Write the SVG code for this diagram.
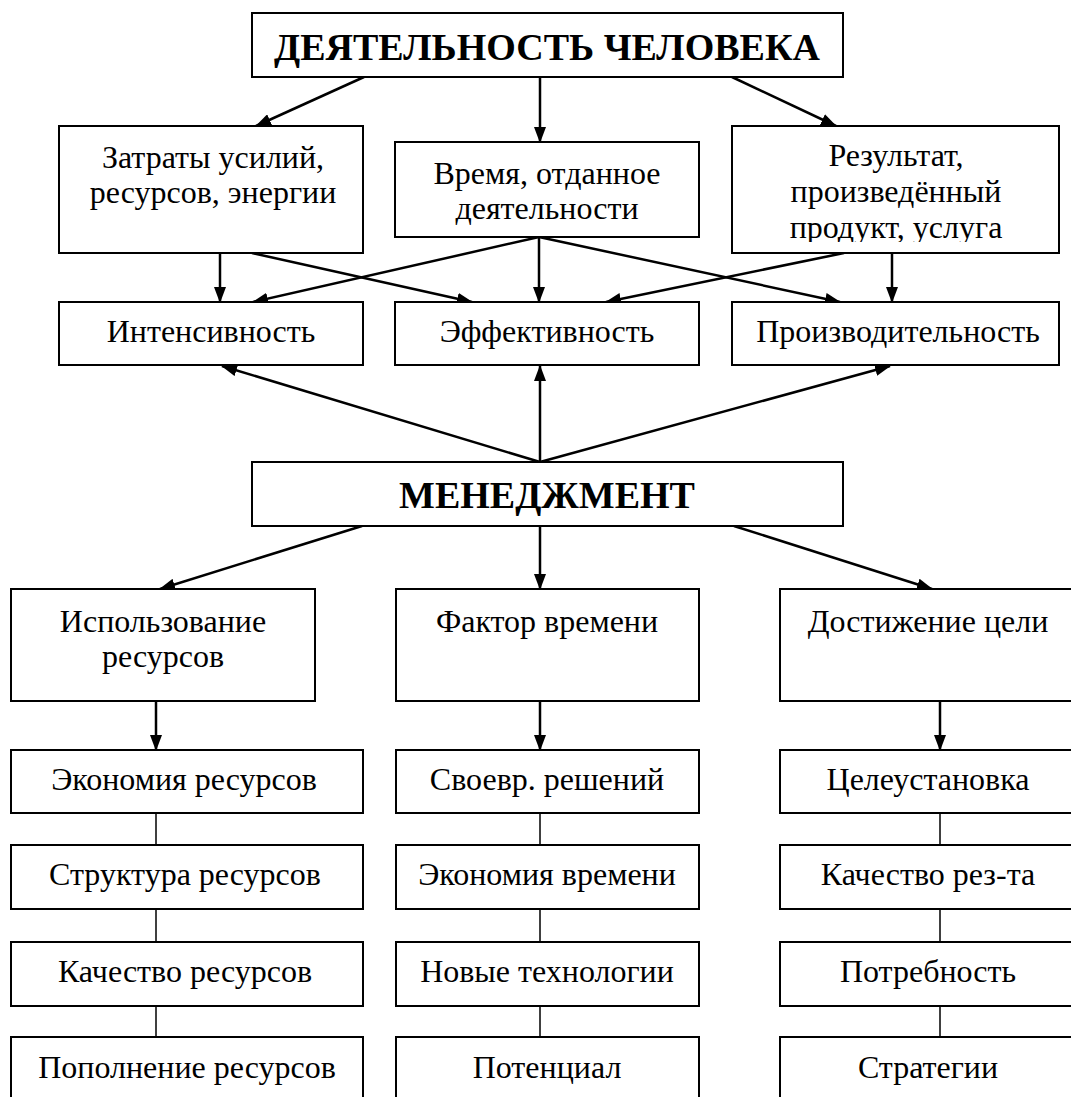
<svg xmlns="http://www.w3.org/2000/svg" width="1071" height="1097" viewBox="0 0 1071 1097">
<defs>
<marker id="ah" viewBox="0 0 16 12" refX="15" refY="6" markerWidth="16" markerHeight="12" markerUnits="userSpaceOnUse" orient="auto">
<path d="M0,0 L16,6 L0,12 Z" fill="#000"/>
</marker>
<clipPath id="clipRes"><rect x="732" y="126" width="327" height="116"/></clipPath>
</defs>
<rect width="1071" height="1097" fill="#fff"/>

<g id="connectors" stroke="#000" fill="none">
<g stroke-width="2.5" marker-end="url(#ah)">
<line x1="364" y1="77" x2="256" y2="126"/>
<line x1="540" y1="77" x2="540" y2="142"/>
<line x1="732" y1="77" x2="836" y2="126"/>
<line x1="220" y1="253" x2="220" y2="302"/>
<line x1="252" y1="253" x2="472" y2="302"/>
<line x1="539" y1="237" x2="253" y2="302"/>
<line x1="539" y1="237" x2="539" y2="302"/>
<line x1="539" y1="237" x2="840" y2="302"/>
<line x1="844" y1="253" x2="606" y2="302"/>
<line x1="892" y1="253" x2="892" y2="302"/>
<line x1="540" y1="462" x2="222" y2="366"/>
<line x1="540" y1="462" x2="540" y2="366"/>
<line x1="540" y1="462" x2="890" y2="366"/>
<line x1="362" y1="526" x2="160" y2="589"/>
<line x1="540" y1="526" x2="540" y2="589"/>
<line x1="734" y1="526" x2="932" y2="589"/>
<line x1="156" y1="701" x2="156" y2="750"/>
<line x1="540" y1="701" x2="540" y2="750"/>
<line x1="940" y1="701" x2="940" y2="750"/>
</g>
<g stroke-width="1.5">
<line x1="156" y1="813" x2="156" y2="845"/>
<line x1="156" y1="909" x2="156" y2="942"/>
<line x1="156" y1="1006" x2="156" y2="1037"/>
<line x1="540" y1="813" x2="540" y2="845"/>
<line x1="540" y1="909" x2="540" y2="942"/>
<line x1="540" y1="1006" x2="540" y2="1037"/>
<line x1="940" y1="813" x2="940" y2="845"/>
<line x1="940" y1="909" x2="940" y2="942"/>
<line x1="940" y1="1006" x2="940" y2="1037"/>
</g>
</g>

<g id="nodes" text-anchor="middle">
<g id="n-activity"><rect fill="#fff" stroke="#000" stroke-width="2" x="252" y="13" width="591" height="64"/><text font-family="Liberation Serif" font-size="38" font-weight="bold" x="547" y="60">ДЕЯТЕЛЬНОСТЬ ЧЕЛОВЕКА</text></g>
<g id="n-costs"><rect fill="#fff" stroke="#000" stroke-width="2" x="59" y="126" width="304" height="127"/><text font-family="Liberation Serif" font-size="32" x="213" y="168">Затраты усилий,</text><text font-family="Liberation Serif" font-size="32" x="213" y="203">ресурсов, энергии</text></g>
<g id="n-time"><rect fill="#fff" stroke="#000" stroke-width="2" x="395" y="142" width="304" height="95"/><text font-family="Liberation Serif" font-size="32" x="547" y="184">Время, отданное</text><text font-family="Liberation Serif" font-size="32" x="547" y="219">деятельности</text></g>
<g id="n-result"><rect fill="#fff" stroke="#000" stroke-width="2" x="732" y="126" width="327" height="127"/><g clip-path="url(#clipRes)"><text font-family="Liberation Serif" font-size="32" x="896" y="166">Результат,</text><text font-family="Liberation Serif" font-size="32" x="896" y="202">произведённый</text><text font-family="Liberation Serif" font-size="32" x="896" y="238">продукт, услуга</text></g></g>
<g id="n-intensity"><rect fill="#fff" stroke="#000" stroke-width="2" x="59" y="302" width="304" height="63"/><text font-family="Liberation Serif" font-size="32" x="211" y="342">Интенсивность</text></g>
<g id="n-efficiency"><rect fill="#fff" stroke="#000" stroke-width="2" x="395" y="302" width="304" height="63"/><text font-family="Liberation Serif" font-size="32" x="547" y="342">Эффективность</text></g>
<g id="n-productivity"><rect fill="#fff" stroke="#000" stroke-width="2" x="732" y="302" width="327" height="63"/><text font-family="Liberation Serif" font-size="32" x="898" y="342">Производительность</text></g>
<g id="n-management"><rect fill="#fff" stroke="#000" stroke-width="2" x="252" y="462" width="591" height="64"/><text font-family="Liberation Serif" font-size="38" font-weight="bold" x="547" y="508">МЕНЕДЖМЕНТ</text></g>
<g id="n-resuse"><rect fill="#fff" stroke="#000" stroke-width="2" x="11" y="589" width="304" height="112"/><text font-family="Liberation Serif" font-size="32" x="163" y="632">Использование</text><text font-family="Liberation Serif" font-size="32" x="163" y="667">ресурсов</text></g>
<g id="n-timefactor"><rect fill="#fff" stroke="#000" stroke-width="2" x="396" y="589" width="303" height="112"/><text font-family="Liberation Serif" font-size="32" x="547" y="632">Фактор времени</text></g>
<g id="n-goal"><rect fill="#fff" stroke="#000" stroke-width="2" x="780" y="589" width="300" height="112"/><text font-family="Liberation Serif" font-size="32" x="928" y="632">Достижение цели</text></g>

<g id="n-r1a"><rect fill="#fff" stroke="#000" stroke-width="2" x="11" y="750" width="352" height="63"/><text font-family="Liberation Serif" font-size="32" x="184" y="790">Экономия ресурсов</text></g>
<g id="n-r1b"><rect fill="#fff" stroke="#000" stroke-width="2" x="11" y="845" width="352" height="64"/><text font-family="Liberation Serif" font-size="32" x="185" y="885">Структура ресурсов</text></g>
<g id="n-r1c"><rect fill="#fff" stroke="#000" stroke-width="2" x="11" y="942" width="352" height="64"/><text font-family="Liberation Serif" font-size="32" x="185" y="982">Качество ресурсов</text></g>
<g id="n-r1d"><rect fill="#fff" stroke="#000" stroke-width="2" x="11" y="1037" width="352" height="70"/><text font-family="Liberation Serif" font-size="32" x="187" y="1078">Пополнение ресурсов</text></g>

<g id="n-r2a"><rect fill="#fff" stroke="#000" stroke-width="2" x="396" y="750" width="303" height="63"/><text font-family="Liberation Serif" font-size="32" x="547" y="790">Своевр. решений</text></g>
<g id="n-r2b"><rect fill="#fff" stroke="#000" stroke-width="2" x="396" y="845" width="303" height="64"/><text font-family="Liberation Serif" font-size="32" x="547" y="885">Экономия времени</text></g>
<g id="n-r2c"><rect fill="#fff" stroke="#000" stroke-width="2" x="396" y="942" width="303" height="64"/><text font-family="Liberation Serif" font-size="32" x="547" y="982">Новые технологии</text></g>
<g id="n-r2d"><rect fill="#fff" stroke="#000" stroke-width="2" x="396" y="1037" width="303" height="70"/><text font-family="Liberation Serif" font-size="32" x="547" y="1078">Потенциал</text></g>

<g id="n-r3a"><rect fill="#fff" stroke="#000" stroke-width="2" x="780" y="750" width="300" height="63"/><text font-family="Liberation Serif" font-size="32" x="928" y="790">Целеустановка</text></g>
<g id="n-r3b"><rect fill="#fff" stroke="#000" stroke-width="2" x="780" y="845" width="300" height="64"/><text font-family="Liberation Serif" font-size="32" x="928" y="885">Качество рез-та</text></g>
<g id="n-r3c"><rect fill="#fff" stroke="#000" stroke-width="2" x="780" y="942" width="300" height="64"/><text font-family="Liberation Serif" font-size="32" x="928" y="982">Потребность</text></g>
<g id="n-r3d"><rect fill="#fff" stroke="#000" stroke-width="2" x="780" y="1037" width="300" height="70"/><text font-family="Liberation Serif" font-size="32" x="928" y="1078">Стратегии</text></g>
</g>
</svg>
